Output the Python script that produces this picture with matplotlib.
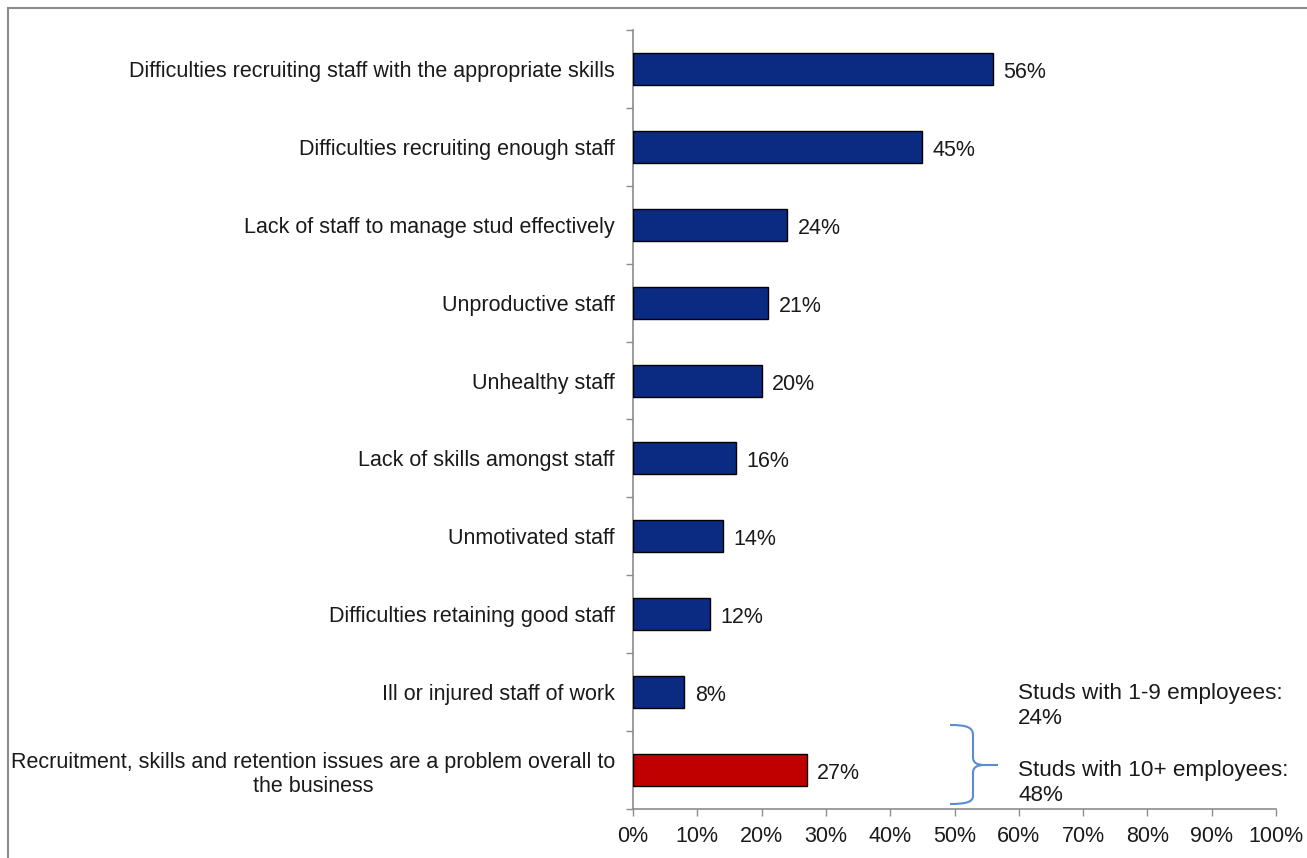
import matplotlib
matplotlib.use("Agg")
import matplotlib.pyplot as plt
from matplotlib.path import Path
from matplotlib.patches import PathPatch
from matplotlib.ticker import FixedLocator, MultipleLocator, PercentFormatter
import numpy as np

categories = [
    "Difficulties recruiting staff with the appropriate skills",
    "Difficulties recruiting enough staff",
    "Lack of staff to manage stud effectively",
    "Unproductive staff",
    "Unhealthy staff",
    "Lack of skills amongst staff",
    "Unmotivated staff",
    "Difficulties retaining good staff",
    "Ill or injured staff of work",
    "Recruitment, skills and retention issues are a problem overall to\nthe business",
]
values = [56, 45, 24, 21, 20, 16, 14, 12, 8, 27]
colors = ["#0B2A82"] * 9 + ["#C00000"]
note_lines = ["Studs with 1-9 employees:\n24%", "Studs with 10+ employees:\n48%"]

plt.rcParams['font.family'] = ['Liberation Sans', 'DejaVu Sans']
FS = 15.5
W, H = 1307, 858
fig = plt.figure(figsize=(W / 100, H / 100), dpi=100)
ax = fig.add_axes([633 / W, 1 - 809 / H, (1276 - 633) / W, (809 - 30) / H])

n = len(categories)
y = np.arange(n)
ax.barh(y, values, height=0.41, color=colors, edgecolor="black", linewidth=1.0, zorder=3)
ax.set_ylim(n - 0.5, -0.5)
ax.set_xlim(0, 100)

ax.set_yticks(y)
ax.set_yticklabels(categories, fontsize=FS, color="#1a1a1a", multialignment="center",
                   linespacing=1.2)
ax.yaxis.set_minor_locator(FixedLocator(np.arange(-0.5, n, 1.0)))
ax.tick_params(axis="y", which="major", length=0, pad=13)
ax.tick_params(axis="y", which="minor", length=5, color="#8c8c8c", width=1)

ax.xaxis.set_major_locator(MultipleLocator(10))
ax.xaxis.set_major_formatter(PercentFormatter(decimals=0))
ax.tick_params(axis="x", which="major", length=5, color="#8c8c8c", width=1, pad=7,
               labelsize=FS, labelcolor="#1a1a1a")

for s in ["top", "right"]:
    ax.spines[s].set_visible(False)
for s in ["left", "bottom"]:
    ax.spines[s].set_color("#8c8c8c")
    ax.spines[s].set_linewidth(1.2)

for yi, v in zip(y, values):
    ax.annotate(f"{v}%", (v, yi), xytext=(7.5, -2.5), textcoords="offset points",
                va="center", ha="left", fontsize=FS, color="#1a1a1a")

# figure border (top and left visible)
fig.add_artist(plt.Line2D([8 / W, 1], [1 - 8 / H, 1 - 8 / H], color="#8c8c8c", lw=1.5,
                          transform=fig.transFigure))
fig.add_artist(plt.Line2D([8 / W, 8 / W], [1 - 8 / H, 0], color="#8c8c8c", lw=1.5,
                          transform=fig.transFigure))

# curly brace annotation
def P(x, yy):
    return (x / W, 1 - yy / H)

verts = [P(950, 725), P(966, 725), P(973, 727), P(973, 735),
         P(973, 757),
         P(973, 763), P(977, 765), P(985, 765),
         P(998, 765),
         P(985, 765),
         P(977, 765), P(973, 767), P(973, 773),
         P(973, 796),
         P(973, 802), P(966, 804), P(950, 804)]
codes = [Path.MOVETO, Path.CURVE4, Path.CURVE4, Path.CURVE4,
         Path.LINETO,
         Path.CURVE4, Path.CURVE4, Path.CURVE4,
         Path.LINETO,
         Path.MOVETO,
         Path.CURVE4, Path.CURVE4, Path.CURVE4,
         Path.LINETO,
         Path.CURVE4, Path.CURVE4, Path.CURVE4]
fig.add_artist(PathPatch(Path(verts, codes), facecolor="none", edgecolor="#5B8BD0", lw=1.5,
                         transform=fig.transFigure))

fig.text(1018 / W, 1 - 706 / H, note_lines[0], fontsize=16.2, color="#1a1a1a",
         ha="left", va="center", linespacing=1.2)
fig.text(1018 / W, 1 - 783 / H, note_lines[1], fontsize=16.2, color="#1a1a1a",
         ha="left", va="center", linespacing=1.2)

fig.savefig("out.png", dpi=100)
